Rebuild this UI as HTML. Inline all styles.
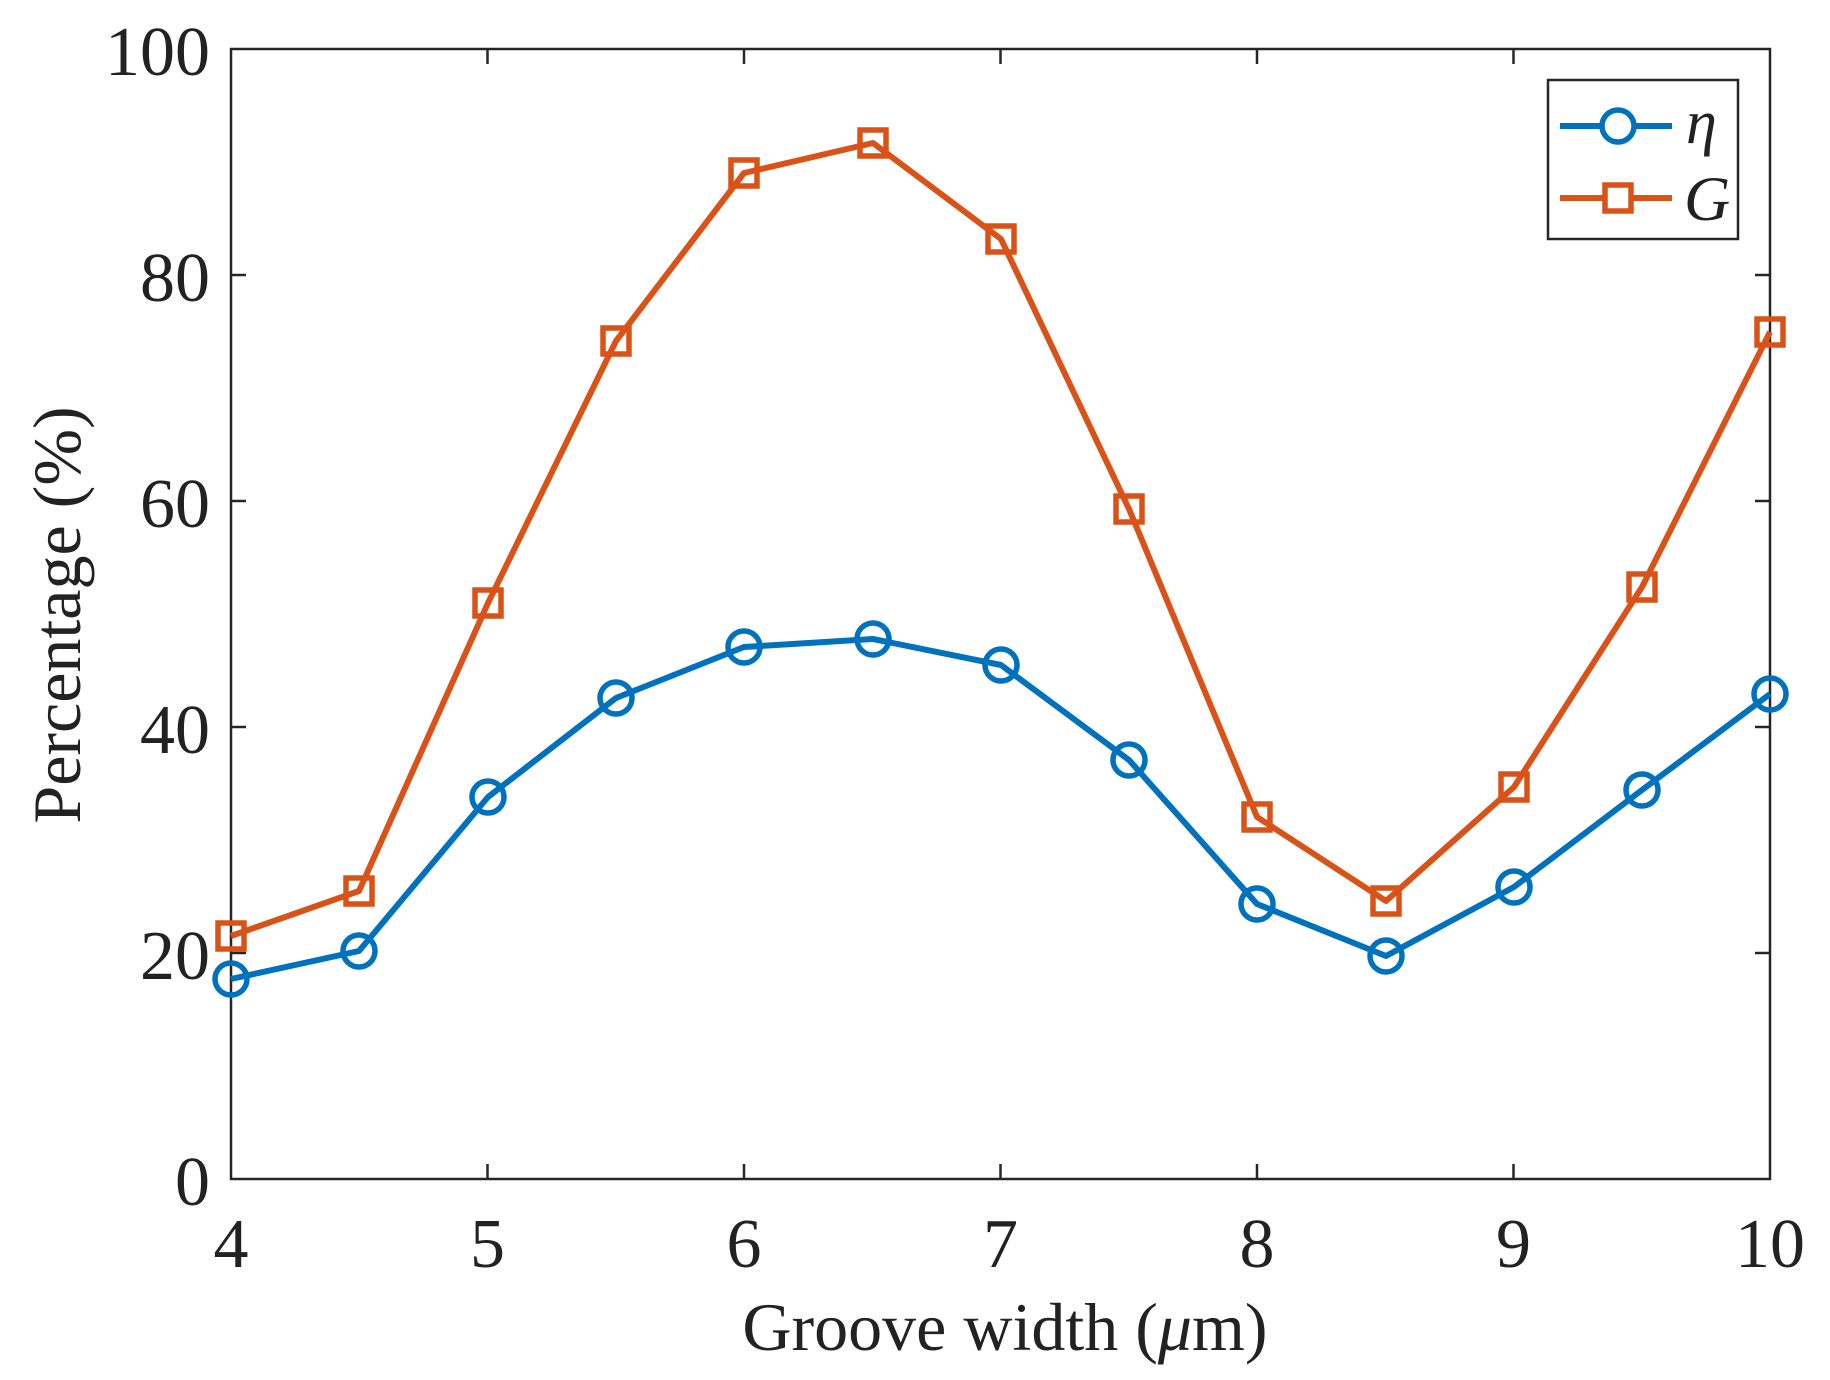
<!DOCTYPE html>
<html><head><meta charset="utf-8"><style>body{margin:0;background:#fff}</style></head><body>
<svg width="1830" height="1375" xmlns="http://www.w3.org/2000/svg" font-family="'Liberation Serif', serif">
<rect width="1830" height="1375" fill="#fff"/>
<rect x="231" y="49" width="1539" height="1130" fill="none" stroke="#262626" stroke-width="2.5"/>
<g stroke="#262626" stroke-width="2.5">
<line x1="487.5" y1="1179" x2="487.5" y2="1164"/><line x1="744" y1="1179" x2="744" y2="1164"/><line x1="1000.5" y1="1179" x2="1000.5" y2="1164"/><line x1="1257" y1="1179" x2="1257" y2="1164"/><line x1="1513.5" y1="1179" x2="1513.5" y2="1164"/>
<line x1="487.5" y1="49" x2="487.5" y2="64"/><line x1="744" y1="49" x2="744" y2="64"/><line x1="1000.5" y1="49" x2="1000.5" y2="64"/><line x1="1257" y1="49" x2="1257" y2="64"/><line x1="1513.5" y1="49" x2="1513.5" y2="64"/>
<line x1="231" y1="953" x2="246" y2="953"/><line x1="231" y1="727" x2="246" y2="727"/><line x1="231" y1="501" x2="246" y2="501"/><line x1="231" y1="275" x2="246" y2="275"/>
<line x1="1770" y1="953" x2="1755" y2="953"/><line x1="1770" y1="727" x2="1755" y2="727"/><line x1="1770" y1="501" x2="1755" y2="501"/><line x1="1770" y1="275" x2="1755" y2="275"/>
</g>
<g font-size="70" fill="#222" text-anchor="middle">
<text x="231" y="1267">4</text><text x="487.5" y="1267">5</text><text x="744" y="1267">6</text><text x="1000.5" y="1267">7</text><text x="1257" y="1267">8</text><text x="1513.5" y="1267">9</text><text x="1770" y="1267">10</text>
</g>
<g font-size="70" fill="#222" text-anchor="end">
<text x="210" y="1205">0</text><text x="210" y="979">20</text><text x="210" y="753">40</text><text x="210" y="527">60</text><text x="210" y="301">80</text><text x="210" y="75">100</text>
</g>
<text x="1005" y="1350" font-size="68" text-anchor="middle" fill="#222">Groove width (<tspan font-style="italic">μ</tspan>m)</text>
<text transform="translate(80,615) rotate(-90)" font-size="68" text-anchor="middle" fill="#222">Percentage (%)</text>
<polyline fill="none" stroke="#D95319" stroke-width="6" stroke-linejoin="round" points="231,936 359,891 488,603 616,341 744,173 873,143 1001,239 1129,509 1257,817 1386,901 1514,787 1642,587 1770,332"/>
<polyline fill="none" stroke="#0072BD" stroke-width="6" stroke-linejoin="round" points="231,979 359,951 488,797 616,698 744,647 873,639 1001,665 1129,760 1257,904 1386,956 1514,887 1642,790 1770,694"/>
<g fill="none" stroke="#D95319" stroke-width="5.5">
<rect x="218" y="923" width="26" height="26"/><rect x="346" y="878" width="26" height="26"/><rect x="475" y="590" width="26" height="26"/><rect x="603" y="328" width="26" height="26"/><rect x="731" y="160" width="26" height="26"/><rect x="860" y="130" width="26" height="26"/><rect x="988" y="226" width="26" height="26"/><rect x="1116" y="496" width="26" height="26"/><rect x="1244" y="804" width="26" height="26"/><rect x="1373" y="888" width="26" height="26"/><rect x="1501" y="774" width="26" height="26"/><rect x="1629" y="574" width="26" height="26"/><rect x="1757" y="319" width="26" height="26"/>
</g>
<g fill="none" stroke="#0072BD" stroke-width="5.5">
<circle cx="231" cy="979" r="16"/><circle cx="359" cy="951" r="16"/><circle cx="488" cy="797" r="16"/><circle cx="616" cy="698" r="16"/><circle cx="744" cy="647" r="16"/><circle cx="873" cy="639" r="16"/><circle cx="1001" cy="665" r="16"/><circle cx="1129" cy="760" r="16"/><circle cx="1257" cy="904" r="16"/><circle cx="1386" cy="956" r="16"/><circle cx="1514" cy="887" r="16"/><circle cx="1642" cy="790" r="16"/><circle cx="1770" cy="694" r="16"/>
</g>
<rect x="1548" y="80" width="190" height="159" fill="#fff" stroke="#262626" stroke-width="2.5"/>
<line x1="1560" y1="126" x2="1672" y2="126" stroke="#0072BD" stroke-width="6"/>
<circle cx="1618" cy="126" r="16" fill="#fff" stroke="#0072BD" stroke-width="5.5"/>
<line x1="1560" y1="198" x2="1672" y2="198" stroke="#D95319" stroke-width="6"/>
<rect x="1605" y="185" width="26" height="26" fill="#fff" stroke="#D95319" stroke-width="5.5"/>
<text x="1686" y="143" font-size="62" font-style="italic" fill="#222">η</text>
<text x="1684" y="220" font-size="64" font-style="italic" fill="#222">G</text>
</svg>
</body></html>
